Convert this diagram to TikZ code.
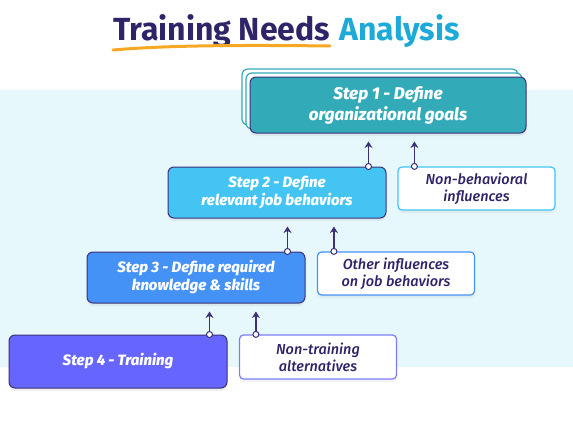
\documentclass[tikz,border=0pt]{standalone}
\usepackage{fontspec}
\setmainfont{Fira Sans}[ItalicFont={Fira Sans Medium Italic}]
\usetikzlibrary{shadows,arrows.meta}

\definecolor{ink}{HTML}{2E2468}
\definecolor{edge}{HTML}{3B3179}
\definecolor{sky}{HTML}{1DAAD8}
\definecolor{gold}{HTML}{F7A823}
\definecolor{wash}{HTML}{E7F8FD}
\definecolor{tealbox}{HTML}{33AAB8}
\definecolor{bluebox}{HTML}{43C4F3}
\definecolor{royalbox}{HTML}{4592F7}
\definecolor{violetbox}{HTML}{6666FE}
\definecolor{violetline}{HTML}{7C7CFF}

\begin{document}
\begin{tikzpicture}[x=1pt,y=-1pt,
  stepbox/.style={draw=edge, line width=1pt, rounded corners=6pt, text=white,
    font=\fontsize{15}{18}\selectfont\bfseries\itshape, align=center, inner sep=0pt,
    minimum width=218pt, minimum height=51pt,
    drop shadow={shadow xshift=0pt, shadow yshift=-3pt, opacity=0.12}},
  sidebox/.style={fill=white, line width=1.2pt, rounded corners=4pt, text=ink,
    font=\fontsize{14.5}{17}\selectfont\itshape, align=center, inner sep=0pt,
    minimum width=157pt, minimum height=43pt,
    drop shadow={shadow xshift=0pt, shadow yshift=-3pt, opacity=0.10}},
  copybox/.style={draw=tealbox, fill=white, line width=1.2pt, rounded corners=6pt,
    minimum width=276pt, minimum height=56pt},
  dot/.style={circle, draw=edge, fill=white, line width=1pt, minimum size=6pt, inner sep=0pt},
  arr/.style={draw=edge, line width=1.2pt, -{Stealth[length=6.5pt,width=8pt]}}]

\useasboundingbox (0,0) rectangle (573,423);

% light band behind the steps
\fill[wash] (0,90) rectangle (573,367);

% title with its underline
\node[anchor=base west, inner sep=0pt, font=\fontsize{32}{36}\selectfont\bfseries, text=ink]
  (tn) at (113,40) {Training Needs};
\node[anchor=base west, inner sep=0pt, font=\fontsize{32}{36}\selectfont\bfseries, text=sky]
  (an) at ([xshift=9pt]tn.base east) {Analysis};
\draw[gold, line width=3pt, line cap=round]
  (113,50) .. controls (170,45) and (250,45) .. (330,46);

% step 1 with its stacked sheets
\node[copybox] (s1b) at (380,97) {};
\node[copybox] (s1a) at (384,101) {};
\node[stepbox, fill=tealbox, minimum width=276pt, minimum height=56pt,
  font=\fontsize{17}{21}\selectfont\bfseries\itshape]
  (s1) at (388,105) {Step 1 - Define\\organizational goals};

% the other steps
\node[stepbox, fill=bluebox] (s2) at (277,192.5) {Step 2 - Define\\relevant job behaviors};
\node[stepbox, fill=royalbox] (s3) at (196,277.5) {Step 3 - Define required\\knowledge \& skills};
\node[stepbox, fill=violetbox, minimum height=53pt] (s4) at (118,361.5) {Step 4 - Training};

% influences beside each step
\node[sidebox, draw=bluebox] (n2) at (476.5,188.5) {Non-behavioral\\influences};
\node[sidebox, draw=royalbox] (n3) at (396,273.5) {Other influences\\on job behaviors};
\node[sidebox, draw=violetline, minimum height=44pt] (n4) at (318,357) {Non-training\\alternatives};

% arrows up to the step above
\foreach \lo/\side/\hi in {s2/n2/s1, s3/n3/s2, s4/n4/s3} {
  \path ([yshift=-8pt]\hi.south) coordinate (\hi-b);
  \node[dot] (\lo-d) at ([xshift=-18pt]\lo.north east) {};
  \node[dot] (\side-d) at ([xshift=17pt]\side.north west) {};
  \coordinate (\lo-t) at (\lo-d |- \hi-b);
  \coordinate (\side-t) at (\side-d |- \hi-b);
  \draw[arr] (\lo-d) -- (\lo-t);
  \draw[arr] (\side-d) -- (\side-t);
}
\end{tikzpicture}
\end{document}
